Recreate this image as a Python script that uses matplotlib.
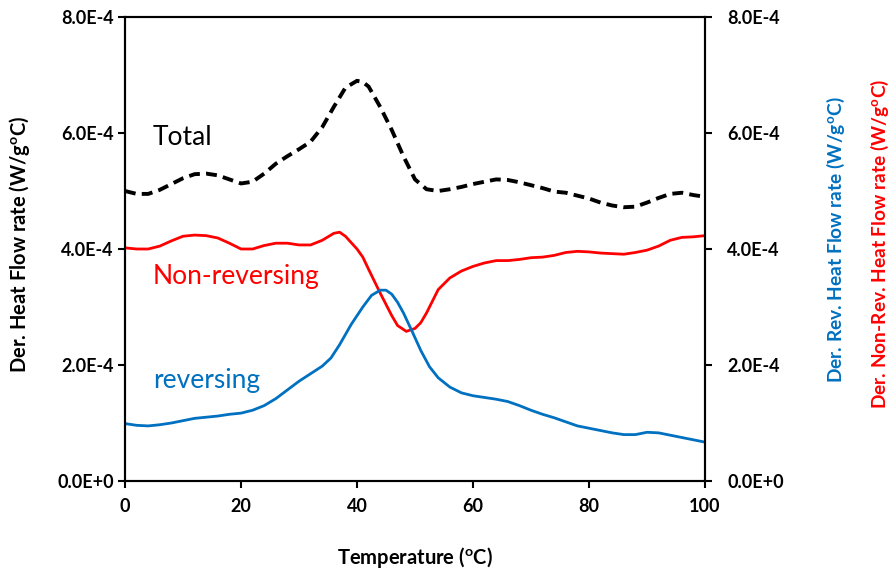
import numpy as np
import matplotlib
matplotlib.use("Agg")
import matplotlib.pyplot as plt

plt.rcParams['font.family'] = ['Lato', 'DejaVu Sans']
plt.rcParams['mathtext.default'] = 'regular'

# values in units of 1E-4 W/g°C
temp_total = [0, 2, 4, 6, 8, 10, 12, 14, 16, 18, 20, 22, 24, 26, 28, 30, 32, 34, 36,
              38, 40, 41, 42, 44, 46, 48, 50, 52, 54, 56, 58, 60, 62, 64, 66, 68, 70,
              72, 74, 76, 78, 80, 82, 84, 86, 88, 90, 92, 94, 96, 98, 100]
total = [5.0, 4.95, 4.95, 5.02, 5.12, 5.22, 5.29, 5.3, 5.27, 5.2, 5.13, 5.16, 5.3,
         5.47, 5.6, 5.72, 5.85, 6.1, 6.45, 6.78, 6.9, 6.88, 6.8, 6.45, 6.05, 5.6,
         5.2, 5.03, 5.0, 5.03, 5.07, 5.12, 5.16, 5.2, 5.19, 5.15, 5.1, 5.05, 4.99,
         4.97, 4.92, 4.87, 4.8, 4.75, 4.72, 4.73, 4.8, 4.88, 4.95, 4.97, 4.93, 4.9]

temp_nonrev = [0, 2, 4, 6, 8, 10, 12, 14, 16, 18, 20, 22, 24, 26, 28, 30, 32, 34, 36,
               37, 38, 40, 41, 42, 44, 46, 47, 48.5, 50, 51, 52, 54, 56, 58, 60, 62,
               64, 66, 68, 70, 72, 74, 76, 78, 80, 82, 84, 86, 88, 90, 92, 94, 96, 98,
               100]
nonrev = [4.02, 4.0, 4.0, 4.05, 4.14, 4.22, 4.24, 4.23, 4.19, 4.1, 4.0, 4.0, 4.06,
          4.1, 4.1, 4.07, 4.07, 4.15, 4.27, 4.29, 4.22, 4.0, 3.86, 3.65, 3.24, 2.85,
          2.68, 2.58, 2.63, 2.73, 2.9, 3.3, 3.5, 3.62, 3.7, 3.76, 3.8, 3.8, 3.82,
          3.85, 3.86, 3.89, 3.94, 3.96, 3.95, 3.93, 3.92, 3.91, 3.94, 3.98, 4.05,
          4.15, 4.2, 4.21, 4.23]

temp_rev = [0, 2, 4, 6, 8, 10, 12, 14, 16, 18, 20, 22, 24, 26, 28, 30, 32, 34, 35.5,
            37, 39, 41, 42.5, 44, 45, 46, 47, 48, 49.5, 51, 52.5, 54, 56, 58, 60, 62,
            64, 66, 68, 70, 72, 74, 76, 78, 80, 82, 84, 86, 88, 90, 92, 94, 96, 98,
            100]
rev = [0.99, 0.96, 0.95, 0.97, 1.0, 1.04, 1.08, 1.1, 1.12, 1.15, 1.17, 1.22, 1.3,
       1.42, 1.57, 1.72, 1.85, 1.98, 2.12, 2.35, 2.7, 3.0, 3.2, 3.29, 3.29, 3.22,
       3.08, 2.9, 2.58, 2.25, 1.97, 1.78, 1.62, 1.52, 1.47, 1.44, 1.41, 1.37, 1.3,
       1.22, 1.15, 1.09, 1.02, 0.95, 0.91, 0.87, 0.83, 0.8, 0.8, 0.84, 0.83, 0.79,
       0.75, 0.71, 0.67]

x_ticks = [0, 20, 40, 60, 80, 100]
y_ticks = [0, 2e-4, 4e-4, 6e-4, 8e-4]
y_labels = ['0.0E+0', '2.0E-4', '4.0E-4', '6.0E-4', '8.0E-4']

blue = '#0070C0'
red = '#FF0000'

fig = plt.figure(figsize=(8.95, 5.73), dpi=100)
ax = fig.add_axes([125/895, 92/573, 580/895, 464/573])

ax.plot(temp_total, np.array(total)*1e-4, color='black', lw=2.8, ls=(0, (2.8, 1.6)))
ax.plot(temp_nonrev, np.array(nonrev)*1e-4, color=red, lw=2.0)
ax.plot(temp_rev, np.array(rev)*1e-4, color=blue, lw=2.0)

ax.set_xlim(0, 100)
ax.set_ylim(0, 8e-4)
ax.set_xticks(x_ticks)
ax.set_xticklabels([str(t) for t in x_ticks], fontsize=13, fontweight='bold')
ax.set_yticks(y_ticks)
ax.set_yticklabels(y_labels, fontsize=13, fontweight='bold')
ax.tick_params(direction='out', length=5, width=1.5, pad=3)
ax.tick_params(axis='x', pad=7)
for s in ax.spines.values():
    s.set_linewidth(1.5)

ax2 = ax.twinx()
ax2.set_ylim(0, 8e-4)
ax2.set_yticks(y_ticks)
ax2.set_yticklabels(y_labels, fontsize=13, fontweight='bold')
ax2.tick_params(direction='out', length=5, width=1.5, pad=11)
for s in ax2.spines.values():
    s.set_linewidth(1.5)

ax.text(4.8, 5.93e-4, 'Total', fontsize=19, color='black', va='center')
ax.text(4.8, 3.52e-4, 'Non-reversing', fontsize=19, color=red, va='center')
ax.text(4.8, 1.74e-4, 'reversing', fontsize=19, color=blue, va='center')

fig.text(415/895, 1-557/573, 'Temperature ($^o$C)', fontsize=14.5, fontweight='bold',
         ha='center', va='center')
fig.text(20/895, 1-244/573, 'Der. Heat Flow rate (W/g$^o$C)', fontsize=14.5,
         fontweight='bold', rotation=90, ha='center', va='center')
fig.text(836/895, 1-240/573, 'Der. Rev. Heat Flow rate (W/g$^o$C)', fontsize=13.8,
         fontweight='bold', rotation=90, ha='center', va='center', color=blue)
fig.text(880/895, 1-244/573, 'Der. Non-Rev. Heat Flow rate (W/g$^o$C)', fontsize=13.8,
         fontweight='bold', rotation=90, ha='center', va='center', color=red)

fig.savefig('out.png', dpi=100)
